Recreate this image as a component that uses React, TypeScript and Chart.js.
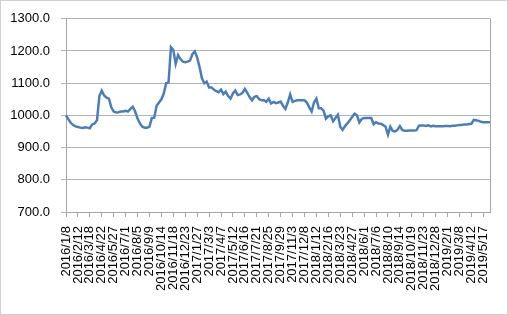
import React, { useEffect, useRef } from "react";
import { Chart, registerables } from "chart.js";

Chart.register(...registerables);

// Weekly series starting 2016/1/8
const startYear = 2016;
const startMonth = 1;
const startDay = 8;

const values: number[] = [
  1000, 988, 977, 970, 966, 964, 962, 961, 963, 962,
  960, 972, 975, 985, 1060, 1077, 1062, 1055, 1052, 1025,
  1012, 1009, 1010, 1012, 1012, 1014, 1012, 1020, 1027, 1012,
  990, 975, 965, 962, 962, 965, 992, 993, 1030, 1040,
  1050, 1068, 1100, 1102, 1212, 1203, 1160, 1187, 1175, 1167,
  1165, 1167, 1170, 1190, 1199, 1180, 1150, 1115, 1100, 1105,
  1087, 1087, 1080, 1075, 1072, 1080, 1066, 1074, 1060, 1052,
  1068, 1077, 1063, 1065, 1070, 1082, 1070, 1057, 1047, 1058,
  1060, 1050, 1047, 1047, 1042, 1052, 1037, 1042, 1038, 1040,
  1043, 1030, 1020, 1040, 1065, 1042, 1045, 1047, 1047, 1047,
  1047, 1040, 1025, 1012, 1040, 1052, 1022, 1022, 1015, 990,
  997, 1000, 982, 992, 1002, 965, 955, 967, 975, 985,
  995, 1005, 1000, 978, 989, 992, 992, 992, 992, 973,
  979, 975, 974, 970, 965, 940, 965, 952, 950, 955,
  967, 955, 952, 952, 953, 953, 953, 954, 968, 969,
  969, 967, 969, 966, 968, 966, 966, 966, 966, 967,
  967, 966, 968, 968, 969, 970, 970, 972, 972, 973,
  974, 986, 985, 983, 980, 979, 979, 979, 979,
];

const labelEvery = 5;
const yMin = 700;
const yMax = 1300;
const yStep = 100;

function buildLabels(n: number): string[] {
  const out: string[] = [];
  const base = Date.UTC(startYear, startMonth - 1, startDay);
  for (let i = 0; i < n; i++) {
    const d = new Date(base + i * 7 * 86400000);
    out.push(`${d.getUTCFullYear()}/${d.getUTCMonth() + 1}/${d.getUTCDate()}`);
  }
  return out;
}

const categories = buildLabels(values.length);

export default function App() {
  const ref = useRef<HTMLCanvasElement | null>(null);

  useEffect(() => {
    if (!ref.current) return;
    const borderPlugin = {
      id: "frame",
      beforeDraw(chart: any) {
        const ctx = chart.ctx;
        ctx.save();
        ctx.fillStyle = "#ffffff";
        ctx.fillRect(0, 0, chart.width, chart.height);
        ctx.strokeStyle = "#d0d0d0";
        ctx.lineWidth = 1;
        ctx.strokeRect(0.5, 0.5, chart.width - 1, chart.height - 1);
        ctx.restore();
      },
      afterDatasetsDraw(chart: any) {
        const { ctx, chartArea } = chart;
        ctx.save();
        ctx.strokeStyle = "#a6a6a6";
        ctx.lineWidth = 1;
        ctx.beginPath();
        const x = Math.round(chartArea.right) + 0.5;
        ctx.moveTo(x, chartArea.top);
        ctx.lineTo(x, chartArea.bottom);
        ctx.stroke();
        ctx.restore();
      },
    };

    const chart = new Chart(ref.current, {
      type: "line",
      data: {
        labels: categories,
        datasets: [
          {
            data: values,
            borderColor: "#4a7ebb",
            borderWidth: 2.5,
            pointRadius: 0,
            tension: 0,
            fill: false,
          },
        ],
      },
      options: {
        responsive: false,
        animation: false,
        devicePixelRatio: 1,
        layout: { padding: { top: 12, right: 4, left: 0, bottom: 0 } },
        plugins: {
          legend: { display: false },
          tooltip: { enabled: false },
        },
        scales: {
          x: {
            type: "category",
            offset: false,
            afterBuildTicks: (axis: any) => {
              axis.ticks = axis.ticks.filter((_t: any, i: number) => i % labelEvery === 0);
            },
            afterFit: (axis: any) => {
              axis.height = 103;
            },
            ticks: {
              autoSkip: false,
              maxRotation: 90,
              minRotation: 90,
              padding: 9,
              color: "#000",
              font: { family: "Liberation Sans", size: 13 },
            },
            grid: {
              drawOnChartArea: false,
              drawTicks: true,
              tickLength: 5,
              color: "#a6a6a6",
            },
            border: { color: "#a6a6a6" },
          },
          y: {
            min: yMin,
            max: yMax,
            afterFit: (axis: any) => {
              axis.width = 66;
            },
            ticks: {
              stepSize: yStep,
              padding: 11,
              color: "#000",
              font: { family: "Liberation Sans", size: 13 },
              callback: (v: any) => Number(v).toFixed(1),
            },
            grid: {
              color: "#b3b3b3",
              lineWidth: 1,
              tickLength: 5,
            },
            border: { color: "#a6a6a6" },
          },
        },
      },
      plugins: [borderPlugin],
    });
    return () => chart.destroy();
  }, []);

  return (
    <div style={{ position: "fixed", left: 0, top: 0, width: 508, height: 315 }}>
      <canvas ref={ref} width={508} height={315} />
    </div>
  );
}
